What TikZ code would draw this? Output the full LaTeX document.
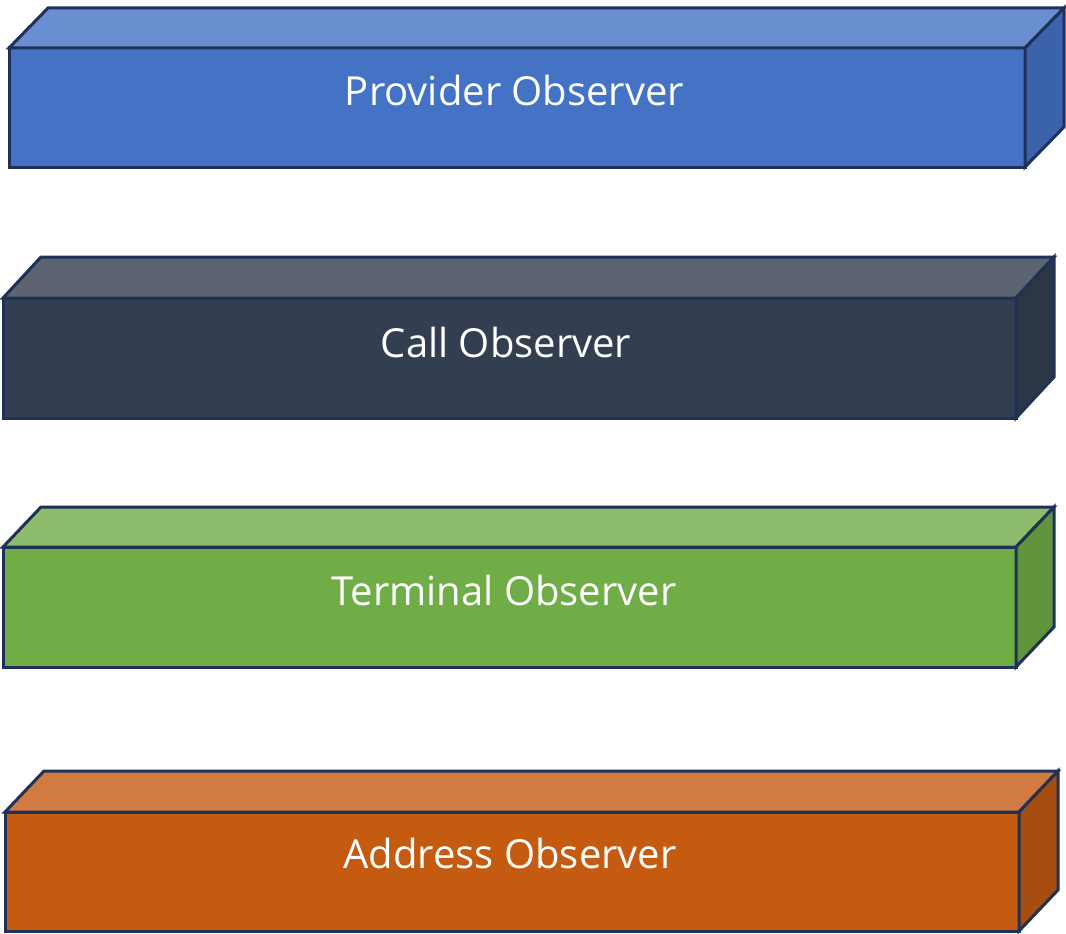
\documentclass[tikz,border=0pt]{standalone}
\usepackage{fontspec}
\setmainfont{Open Sans}
\definecolor{edgeblue}{HTML}{1F3157}
\definecolor{provfront}{HTML}{4472C4}
\definecolor{provtop}{HTML}{6A8FD0}
\definecolor{provside}{HTML}{3A63AB}
\definecolor{callfront}{HTML}{333F50}
\definecolor{calltop}{HTML}{5B6470}
\definecolor{callside}{HTML}{2C3645}
\definecolor{termfront}{HTML}{70AD47}
\definecolor{termtop}{HTML}{8DBD6C}
\definecolor{termside}{HTML}{5F933C}
\definecolor{addrfront}{HTML}{C55A11}
\definecolor{addrtop}{HTML}{D17B42}
\definecolor{addrside}{HTML}{A74D0F}
\tikzset{
  face/.style={draw=edgeblue, line width=3pt, line join=miter, inner sep=0pt, outer sep=0pt},
  label text/.style={text=white, font=\fontsize{40}{42}\selectfont, anchor=base, inner sep=0pt}
}

\begin{document}
\begin{tikzpicture}[x=1pt, y=-1pt]
\useasboundingbox (0,0) rectangle (1066,934);
% front faces
\node[face, fill=provfront, minimum width=1016pt, minimum height=119pt] (prov) at (517,107.5) {};
\node[face, fill=callfront, minimum width=1013pt, minimum height=120pt] (call) at (509.5,358) {};
\node[face, fill=termfront, minimum width=1013pt, minimum height=120pt] (term) at (509.5,607) {};
\node[face, fill=addrfront, minimum width=1014pt, minimum height=119pt] (addr) at (512,871.5) {};
% top and side faces
\path[face, fill=provtop]
(prov.north west) -- ++(39,-40) -- ([shift={(39,-40)}]prov.north east) -- (prov.north east) -- cycle;
\path[face, fill=provside]
(prov.north east) -- ++(39,-40) -- ([shift={(39,-40)}]prov.south east) -- (prov.south east) -- cycle;
\path[face, fill=calltop]
(call.north west) -- ++(38,-41) -- ([shift={(38,-41)}]call.north east) -- (call.north east) -- cycle;
\path[face, fill=callside]
(call.north east) -- ++(38,-41) -- ([shift={(38,-41)}]call.south east) -- (call.south east) -- cycle;
\path[face, fill=termtop]
(term.north west) -- ++(38,-40) -- ([shift={(38,-40)}]term.north east) -- (term.north east) -- cycle;
\path[face, fill=termside]
(term.north east) -- ++(38,-40) -- ([shift={(38,-40)}]term.south east) -- (term.south east) -- cycle;
\path[face, fill=addrtop]
(addr.north west) -- ++(39,-41) -- ([shift={(39,-41)}]addr.north east) -- (addr.north east) -- cycle;
\path[face, fill=addrside]
(addr.north east) -- ++(39,-41) -- ([shift={(39,-41)}]addr.south east) -- (addr.south east) -- cycle;
% texts
\node[label text] (provtxt) at (514.5,105) {Provider Observer};
\node[label text] (calltxt) at (506,357) {Call Observer};
\node[label text] (termtxt) at (504,605) {Terminal Observer};
\node[label text] (addrtxt) at (510,868) {Address Observer};
\end{tikzpicture}
\end{document}
